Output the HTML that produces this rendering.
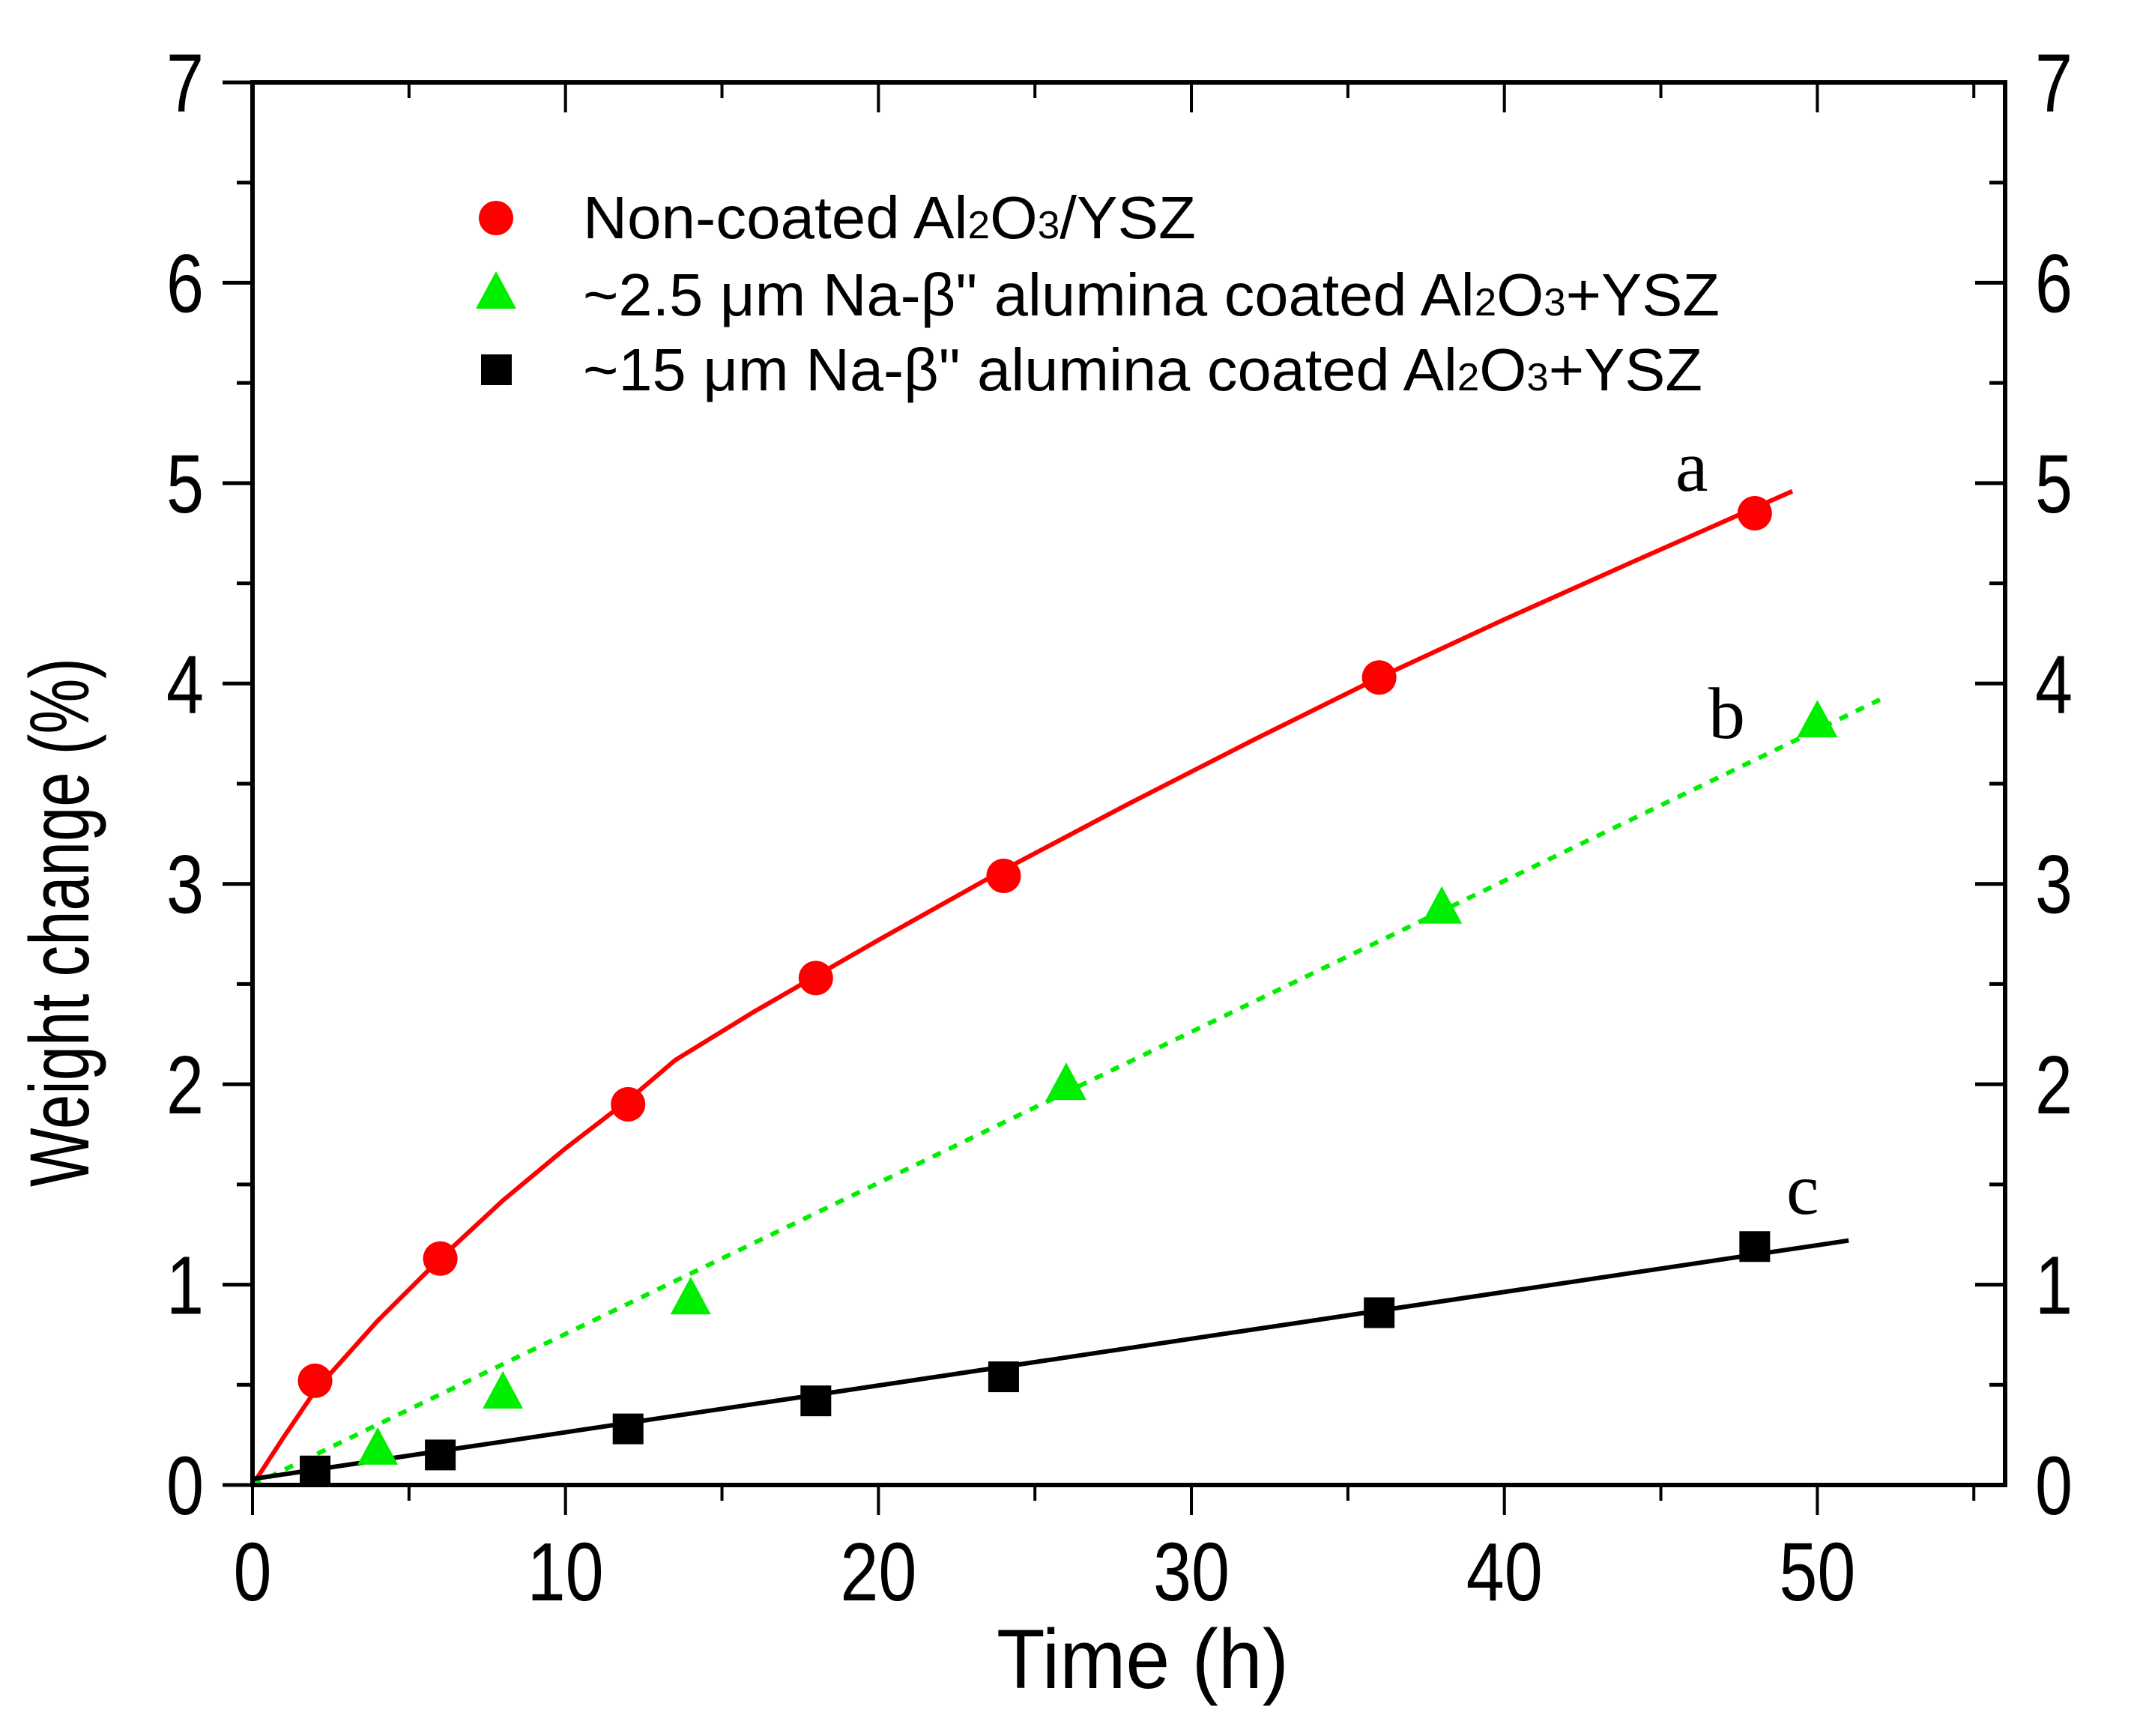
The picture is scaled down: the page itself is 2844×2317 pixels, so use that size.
<!DOCTYPE html>
<html><head><meta charset="utf-8"><style>
html,body{margin:0;padding:0;background:#fff;}
svg{display:block;}
text{font-family:"Liberation Sans Narrow","Liberation Sans",sans-serif;fill:#000;}
.lab{font-family:"Liberation Serif",serif;}
</style></head><body>
<svg id="chart" width="2844" height="2317" viewBox="0 0 2844 2317" xmlns="http://www.w3.org/2000/svg">
<g id="plot"></g>
<g id="axes"></g>
<text x="1525" y="2253" font-size="112" text-anchor="middle" textLength="390" lengthAdjust="spacingAndGlyphs">Time (h)</text>
<text transform="translate(118,1231) rotate(-90)" x="0" y="0" font-size="112" text-anchor="middle" textLength="706" lengthAdjust="spacingAndGlyphs">Weight change (%)</text>
<g>
 <circle cx="662" cy="291" r="23" fill="#ff0000"/>
 <text x="778" y="318" font-size="80" style="font-family:'Liberation Sans',sans-serif" textLength="818" lengthAdjust="spacingAndGlyphs">Non-coated Al<tspan font-size="52">2</tspan>O<tspan font-size="52">3</tspan>/YSZ</text>
 <polygon points="635,412 689,412 662,362" fill="#00ee00"/>
 <text x="778" y="421" font-size="80" style="font-family:'Liberation Sans',sans-serif" textLength="1517" lengthAdjust="spacingAndGlyphs">~2.5 μm Na-β" alumina coated Al<tspan font-size="52">2</tspan>O<tspan font-size="52">3</tspan>+YSZ</text>
 <rect x="642" y="473" width="41" height="41" fill="#000"/>
 <text x="778" y="521" font-size="80" style="font-family:'Liberation Sans',sans-serif" textLength="1494" lengthAdjust="spacingAndGlyphs">~15 μm Na-β" alumina coated Al<tspan font-size="52">2</tspan>O<tspan font-size="52">3</tspan>+YSZ</text>
</g>
<text class="lab" x="2236" y="655" font-size="98">a</text>
<text class="lab" x="2280" y="985" font-size="98">b</text>
<text class="lab" x="2384" y="1620" font-size="98">c</text>
</svg>
<script>
const xTicks=[0,10,20,30,40,50];
const yTicks=[0,1,2,3,4,5,6,7];
const redX=[2,6,12,18,24,36,48];
const redY=[0.52,1.13,1.9,2.53,3.04,4.03,4.85];
const redFitX=[0,1,2,4,6,8,10,12,13.5,16,20,24,28,32,36,40,44,49.2];
const redFitY=[0,0.24,0.47,0.82,1.13,1.42,1.68,1.92,2.12,2.36,2.72,3.07,3.4,3.72,4.03,4.32,4.6,4.96];
const greenX=[4,8,14,26,38,50];
const greenY=[0.18,0.46,0.93,2.0,2.88,3.81];
const greenFitX=[0,52];
const greenFitY=[0,3.92];
const blackX=[2,6,12,18,24,36,48];
const blackY=[0.07,0.15,0.28,0.42,0.54,0.86,1.19];
const blackFitX=[0,51];
const blackFitY=[0.03,1.22];

const X0=337,X1=2676,Y0=1982,Y1=110,XMAX=56,YMAX=7;
function sx(v){return X0+(X1-X0)*v/XMAX;}
function sy(v){return Y0-(Y0-Y1)*v/YMAX;}
const NS="http://www.w3.org/2000/svg";
const plot=document.getElementById('plot'),axes=document.getElementById('axes');
function mk(tag,attrs,parent){const e=document.createElementNS(NS,tag);for(const k in attrs)e.setAttribute(k,attrs[k]);parent.appendChild(e);return e;}
function line(x1,y1,x2,y2,w,parent,name){const e=mk('line',{x1,y1,x2,y2,stroke:'#000','stroke-width':w},parent);

return e;}

function fit(xs,ys,color,dash,name){
 const pts=xs.map((x,i)=>sx(x).toFixed(1)+','+sy(ys[i]).toFixed(1)).join(' ');
 const a={points:pts,fill:'none',stroke:color,'stroke-width':6,'stroke-linejoin':'round'};
 if(dash)a['stroke-dasharray']=dash;
 const e=mk('polyline',a,plot);
 
 
}
fit(redFitX,redFitY,'#ff0000',null,'fit-line-noncoated');
fit(greenFitX,greenFitY,'#00ee00','12 12','fit-line-2p5um');
fit(blackFitX,blackFitY,'#000',null,'fit-line-15um');

redX.forEach((x,i)=>{const e=mk('circle',{cx:sx(x),cy:sy(redY[i]),r:23,fill:'#ff0000'},plot);

});
greenX.forEach((x,i)=>{const cx=sx(x),cy=sy(greenY[i]);
const e=mk('polygon',{points:`${cx-27},${cy+21} ${cx+27},${cy+21} ${cx},${cy-29}`,fill:'#00ee00'},plot);

});
blackX.forEach((x,i)=>{const e=mk('rect',{x:sx(x)-20.5,y:sy(blackY[i])-20.5,width:41,height:41,fill:'#000'},plot);

});

const fr=mk('rect',{x:X0,y:Y1,width:X1-X0,height:Y0-Y1,fill:'none',stroke:'#000','stroke-width':6},axes);



for(let v=0;v<=55;v+=5){const x=sx(v),maj=v%10===0,L=maj?40:21;
 line(x,Y0,x,Y0+L,4,axes,'x-tick');
 line(x,Y1,x,Y1+L,4,axes,'x-top-tick');}
xTicks.forEach(v=>{const s=String(v);const t=mk('text',{x:sx(v),y:2136,'font-size':110,'text-anchor':'middle',textLength:s.length*51,lengthAdjust:'spacingAndGlyphs'},axes);t.textContent=s;

});
for(let k=0;k<=14;k++){const v=k/2,y=sy(v),maj=k%2===0,L=maj?40:21;
 line(X0-L,y,X0,y,5,axes,'y-tick');
 line(X1-L,y,X1,y,5,axes,'y-right-tick');}
yTicks.forEach(v=>{
 const t=mk('text',{x:272,y:sy(v)+39,'font-size':110,'text-anchor':'end',textLength:50,lengthAdjust:'spacingAndGlyphs'},axes);t.textContent=v;
 
 
 const r=mk('text',{x:2716,y:sy(v)+39,'font-size':110,'text-anchor':'start',textLength:50,lengthAdjust:'spacingAndGlyphs'},axes);r.textContent=v;
 
 });
</script>
</body></html>
